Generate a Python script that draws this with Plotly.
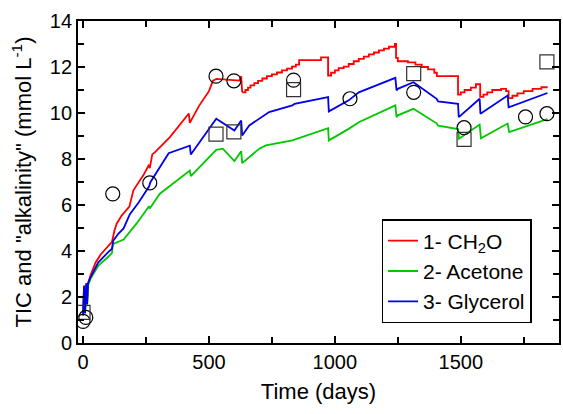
import plotly.graph_objects as go

# ---- model curves ----
red_x = [0, 4, 8, 13, 16, 20, 30, 50, 70, 100, 115, 125, 134, 154, 184, 200, 240, 262, 265, 275, 286, 345,
         420, 424, 460, 500, 516, 530, 600, 621, 628, 632]
red_y = [1.2, 2.4, 1.3, 2.6, 1.7, 2.6, 2.95, 3.5, 3.85, 4.2, 4.4, 4.9, 5.2, 5.55, 5.93, 6.64, 7.3, 7.75, 7.6, 8.2, 8.3, 8.95,
         9.98, 9.57, 10.3, 10.95, 11.41, 11.48, 11.45, 11.41, 11.6, 10.9]

# staircase portion of curve 1 (drawn with step shape)
red_step_x = [632, 645, 655, 665, 680, 695, 712, 730, 750, 770, 790, 810, 830, 845, 858, 945, 973,
              985, 1000, 1015, 1035, 1055, 1075, 1095, 1115, 1135, 1155, 1175, 1195, 1215, 1238,
              1243, 1250, 1290, 1320, 1345, 1370, 1395, 1405, 1489,
              1500, 1515, 1540, 1560, 1577, 1590, 1605, 1625, 1660, 1680, 1690,
              1705, 1725, 1750, 1785, 1820, 1845]
red_step_y = [10.9, 11.0, 11.1, 11.2, 11.3, 11.4, 11.5, 11.6, 11.68, 11.76, 11.85, 11.93, 12.02, 12.1, 12.3, 12.42, 11.63,
              11.75, 11.85, 11.95, 12.02, 12.13, 12.25, 12.35, 12.45, 12.55, 12.63, 12.72, 12.8, 12.88, 13.0,
              12.4, 12.25, 12.2, 12.1, 12.0, 11.9, 11.75, 11.6, 10.8,
              10.9, 11.0, 11.1, 11.25, 10.7, 10.8, 10.9, 11.0, 11.05, 10.95, 10.65,
              10.75, 10.85, 10.95, 11.05, 11.12, 11.12]

green_x = [0, 4, 8, 13, 16, 20, 30, 60, 100, 115, 118, 161, 213, 262, 265, 305, 424, 428, 529, 555, 601, 628, 632,
           700, 726, 831, 973, 976, 1055, 1095, 1240, 1245, 1250, 1312, 1404, 1410, 1489, 1493, 1575, 1580,
           1686, 1692, 1844]
green_y = [1.2, 2.3, 1.3, 2.5, 1.6, 2.5, 2.8, 3.35, 3.75, 3.92, 4.3, 4.5, 5.2, 5.95, 5.85, 6.49, 7.5, 7.26, 8.4, 8.45, 7.91, 8.34, 7.82,
           8.45, 8.59, 8.81, 9.34, 8.81, 9.31, 9.6, 10.33, 9.82, 9.9, 10.18, 9.55, 9.45, 9.3, 8.88, 9.5, 8.9,
           9.54, 9.17, 9.73]

blue_x = [0, 4, 8, 13, 16, 20, 30, 60, 100, 115, 120, 140, 161, 186, 220, 262, 268, 305, 340, 424, 428, 529, 601, 628, 632,
          660, 700, 739, 831, 840, 973, 976, 1055, 1095, 1240, 1245, 1250, 1312, 1404, 1410, 1489, 1492,
          1575, 1578, 1686, 1690, 1844]
blue_y = [1.2, 2.5, 1.3, 2.6, 1.7, 2.6, 2.85, 3.5, 3.95, 4.1, 4.45, 4.75, 4.98, 5.6, 6.1, 6.8, 7.0, 7.65, 8.25, 8.58, 8.2, 9.75, 9.24, 9.67, 9.02,
          9.46, 9.75, 10.04, 10.33, 10.4, 10.69, 10.07, 10.55, 10.9, 11.53, 10.98, 11.05, 11.34, 10.62, 10.5, 10.4, 9.82,
          10.62, 9.97, 10.76, 10.25, 10.87]

# ---- observations ----
circ_x = [0, 11, 118, 265, 528, 599, 836, 1060, 1313, 1513, 1757, 1842]
circ_y = [0.94, 1.11, 6.48, 6.96, 11.6, 11.4, 11.43, 10.62, 10.9, 9.36, 9.83, 9.97]
sq_x = [0, 528, 599, 836, 1313, 1513, 1842]
sq_y = [1.33, 9.08, 9.18, 11.02, 11.71, 8.85, 12.22]

RED = "rgb(255,0,0)"
GREEN = "rgb(0,200,0)"
BLUE = "rgb(0,0,235)"
FONT = "Liberation Sans, Arial, sans-serif"

fig = go.Figure()
fig.add_trace(go.Scatter(x=red_x, y=red_y, mode="lines", line=dict(color=RED, width=1.8),
                         name="1- CH<sub>2</sub>O", legendgroup="r"))
fig.add_trace(go.Scatter(x=red_step_x, y=red_step_y, mode="lines", line=dict(color=RED, width=1.8, shape="hv"),
                         showlegend=False, legendgroup="r"))
fig.add_trace(go.Scatter(x=green_x, y=green_y, mode="lines", line=dict(color=GREEN, width=1.8),
                         name="2- Acetone"))
fig.add_trace(go.Scatter(x=blue_x, y=blue_y, mode="lines", line=dict(color=BLUE, width=1.8),
                         name="3- Glycerol"))
fig.add_trace(go.Scatter(x=circ_x, y=circ_y, mode="markers", showlegend=False,
                         marker=dict(symbol="circle-open", size=14, color="black", line=dict(width=1.2))))
fig.add_trace(go.Scatter(x=sq_x, y=sq_y, mode="markers", showlegend=False,
                         marker=dict(symbol="square-open", size=14, color="rgb(50,50,50)", line=dict(width=1.2))))

axis_common = dict(showgrid=False, zeroline=False, showline=True, linecolor="black", linewidth=1.8,
                   mirror="ticks", ticks="inside", ticklen=7, tickwidth=1.5, tickcolor="black",
                   tickfont=dict(family=FONT, size=20, color="black"))
fig.update_xaxes(range=[-20, 1890], tick0=0, dtick=500,
                 minor=dict(dtick=250, ticks="inside", ticklen=6, tickwidth=1.5, tickcolor="black"),
                 title=dict(text="Time (days)", font=dict(family=FONT, size=22, color="black"), standoff=12),
                 **axis_common)
fig.update_yaxes(range=[0, 14], tick0=0, dtick=2,
                 minor=dict(dtick=1, ticks="inside", ticklen=6, tickwidth=1.5, tickcolor="black"),
                 title=dict(text='TIC and "alkalinity" (mmol L<sup>-1</sup>)',
                            font=dict(family=FONT, size=22, color="black"), standoff=12),
                 **axis_common)

fig.update_layout(width=563, height=414, margin=dict(l=78, r=2, t=21, b=71),
                  plot_bgcolor="white", paper_bgcolor="white",
                  font=dict(family=FONT, color="black"),
                  legend=dict(x=0.631, y=0.385, xanchor="left", yanchor="top",
                              bgcolor="white", bordercolor="black", borderwidth=1.5,
                              font=dict(family=FONT, size=21, color="black"),
                              tracegroupgap=0, itemwidth=30))

fig.write_html("out.html")
